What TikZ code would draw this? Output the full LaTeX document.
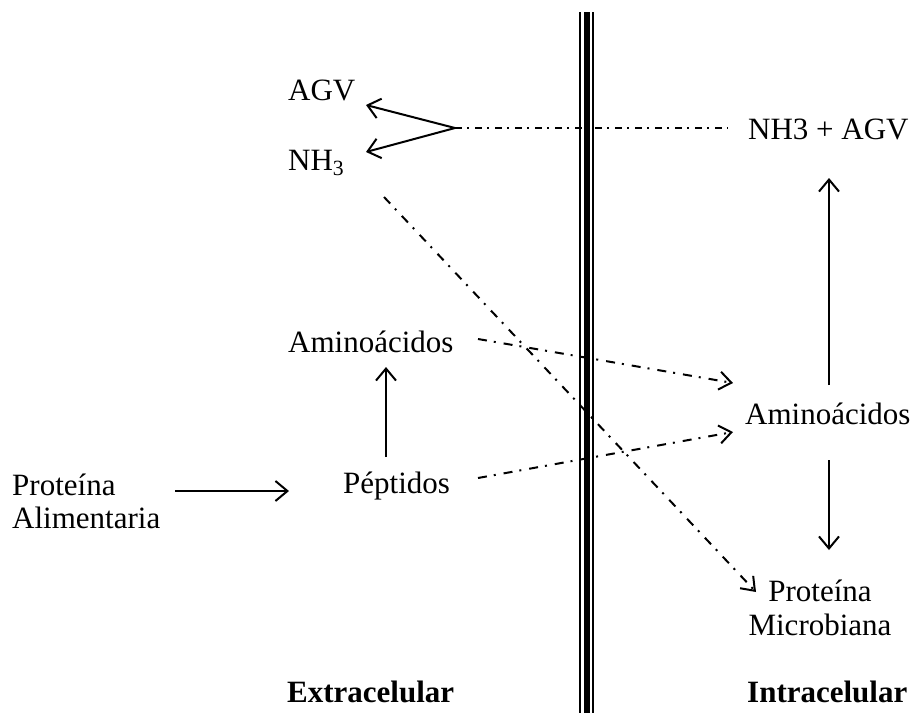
\documentclass[tikz,border=0pt]{standalone}
\usepackage{fontspec}
\setmainfont{Liberation Serif}
\usetikzlibrary{arrows.meta}
\tikzset{
  lbl/.style={inner sep=0pt, font=\fontsize{31}{36}\selectfont},
  bold/.style={inner sep=0pt, font=\fontsize{31}{36}\selectfont\bfseries},
  solidarrow/.style={line width=2pt, -{Straight Barb[length=12pt,width=20pt,line width=2pt]}},
  dd/.style={line width=2pt, dash pattern=on 7pt off 5pt on 2pt off 6pt},
  ddlong/.style={line width=2pt, dash pattern=on 9pt off 7pt on 2pt off 8pt},
  ddarrow/.style={ddlong, -{Straight Barb[length=12pt,width=18pt,line width=2pt]}},
  membrane/.style={line cap=butt}
}
\begin{document}
\begin{tikzpicture}[x=1pt,y=-1pt]
\useasboundingbox (0,0) rectangle (914,713);
% membrane
\draw[membrane, line width=2pt] (580.3,12) -- (580.3,713);
\draw[membrane, line width=5.7pt] (587.2,12) -- (587.2,713);
\draw[membrane, line width=2.3pt] (592.9,12) -- (592.9,713);
% labels
\node[lbl, anchor=base west] (agv) at (288,100) {AGV};
\node[lbl, anchor=base west] (nh3) at (288,170) {NH\textsubscript{3}};
\node[lbl, anchor=base west] (nhagv) at (748,139) {NH3 + AGV};
\node[lbl, anchor=base west] (aaL) at (288,352) {Aminoácidos};
\node[lbl, anchor=base west] (pep) at (343,493) {Péptidos};
\node[lbl, anchor=base west] (palim1) at (12,495) {Proteína};
\node[lbl, anchor=base west] (palim2) at (12,528) {Alimentaria};
\node[lbl, anchor=base west] (aaR) at (745,424) {Aminoácidos};
\node[lbl, anchor=base] (pmic1) at (820,601) {Proteína};
\node[lbl, anchor=base] (pmic2) at (820,635) {Microbiana};
\node[bold, anchor=base west] (extra) at (287,702) {Extracelular};
\node[bold, anchor=base west] (intra) at (747,702) {Intracelular};
% coordinates
\coordinate (split) at (455,128);
\coordinate (agvtip) at (366,105);
\coordinate (nhtip) at (366,152);
\coordinate (hend) at (728,128);
\coordinate (nhs) at (384,197);
\coordinate (pmtip) at (756,592);
\coordinate (aaLs) at (478,339);
\coordinate (aaRt1) at (733,383);
\coordinate (peps) at (478,478);
\coordinate (aaRt2) at (733,432);
\coordinate (peptop) at (386,457);
\coordinate (aaLbot) at (386,367);
\coordinate (palimR) at (175,491);
\coordinate (pepL) at (289,491);
\coordinate (aaRtop) at (829,385);
\coordinate (nhagvbot) at (829,178);
\coordinate (aaRbot) at (829,460);
\coordinate (pmtop) at (829,550);
% connectors
\draw[solidarrow] (split) -- (agvtip);
\draw[solidarrow] (split) -- (nhtip);
\draw[dd] (split) -- (hend);
\draw[ddarrow] (nhs) -- (pmtip);
\draw[ddarrow] (aaLs) -- (aaRt1);
\draw[ddarrow] (peps) -- (aaRt2);
\draw[solidarrow] (peptop) -- (aaLbot);
\draw[solidarrow] (palimR) -- (pepL);
\draw[solidarrow] (aaRtop) -- (nhagvbot);
\draw[solidarrow] (aaRbot) -- (pmtop);
\end{tikzpicture}
\end{document}
